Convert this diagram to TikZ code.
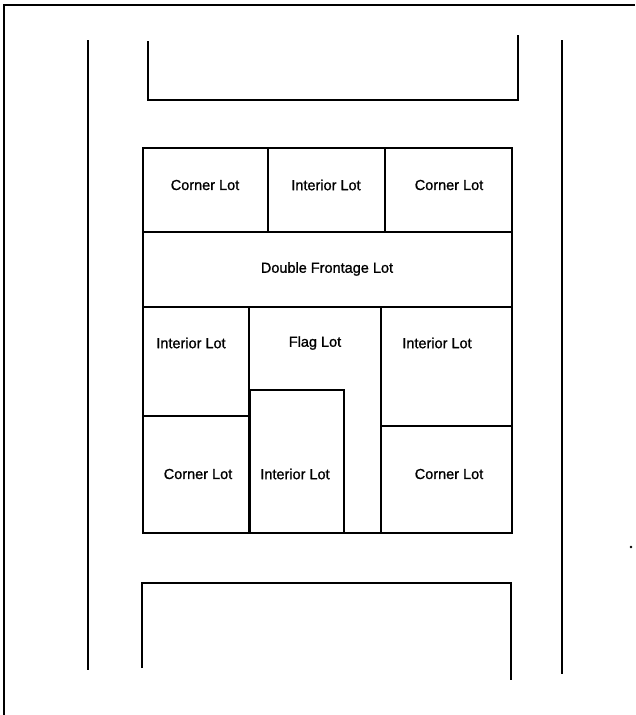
\documentclass[tikz,border=0pt]{standalone}
\usepackage{fontspec}
\setmainfont{Liberation Sans}
\newfontface\lotfont{Liberation Sans}[FakeBold=1.2]
\begin{document}
\begin{tikzpicture}[x=1pt,y=-1pt,line join=miter,
  lotline/.style={line width=1.6pt},
  road/.style={line width=1.4pt},
  frame/.style={line width=1.8pt},
  lbl/.style={font=\lotfont\fontsize{14.5}{16}\selectfont, inner sep=0pt}]
\useasboundingbox (0,0) rectangle (635,715);
% frame
\draw[frame] (4,715) -- (4,5) -- (635,5);
% road edges
\coordinate (rl1) at (88,40);  \coordinate (rl2) at (88,670);
\coordinate (rr1) at (562,40); \coordinate (rr2) at (562,674);
\draw[road] (rl1) -- (rl2);
\draw[road] (rr1) -- (rr2);
% top block
\draw[lotline] (148,41) -- (148,100) -- (518,100) -- (518,35);
% main block
\draw[lotline] (143,148) rectangle (512,533);
\draw[lotline] (143,232) -- (512,232);
\draw[lotline] (143,307) -- (512,307);
\draw[lotline] (268,148) -- (268,232);
\draw[lotline] (385,148) -- (385,232);
\draw[lotline] (249,307) -- (249,533);
\draw[lotline] (143,416) -- (249,416);
\draw[lotline] (381,307) -- (381,533);
\draw[lotline] (381,426) -- (512,426);
\draw[lotline] (250,533) -- (250,390) -- (344,390) -- (344,533);
% bottom block
\draw[lotline] (142,668) -- (142,583) -- (511,583) -- (511,680);
% stray dot
\fill (631,547) circle (1.3pt);
% labels
\node[lbl] (c1) at (205,185) {Corner Lot};
\node[lbl] (i1) at (326,185) {Interior Lot};
\node[lbl] (c2) at (449,185) {Corner Lot};
\node[lbl] (dfl) at (327,269) {Double Frontage Lot};
\node[lbl] (i2) at (191,343) {Interior Lot};
\node[lbl] (fl) at (315,343) {Flag Lot};
\node[lbl] (i3) at (437,343) {Interior Lot};
\node[lbl] (c3) at (198,474) {Corner Lot};
\node[lbl] (i4) at (295,474) {Interior Lot};
\node[lbl] (c4) at (449,474) {Corner Lot};
\end{tikzpicture}
\end{document}
